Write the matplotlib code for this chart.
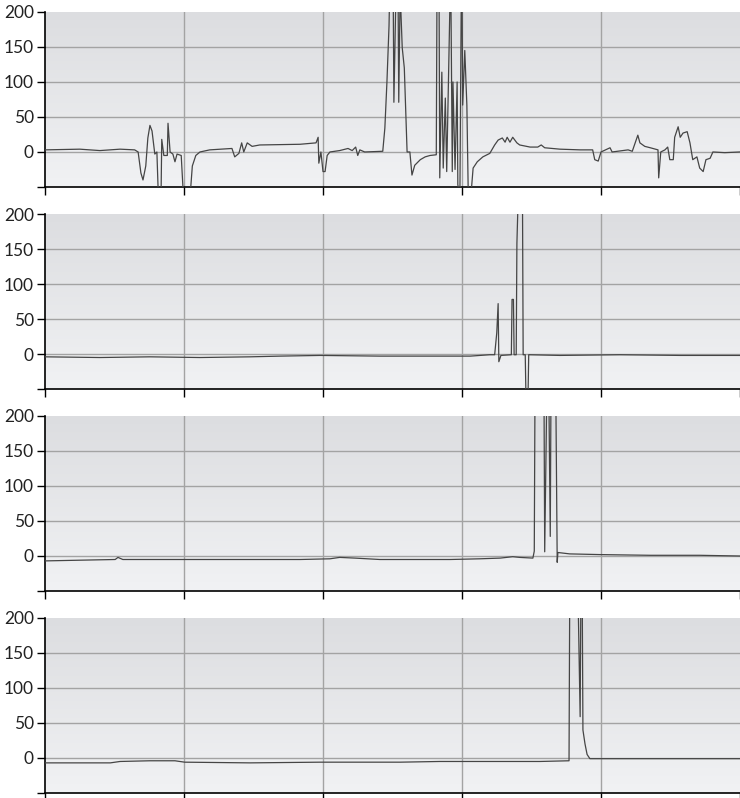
import numpy as np
import matplotlib.pyplot as plt
from matplotlib.colors import LinearSegmentedColormap

# values; time in % of the record, signal clipped at the axis limits
t1 = [0, 5.0, 7.9, 10.8, 12.9, 13.4, 13.8, 14.1, 14.5, 14.8, 15.1, 15.4, 15.8, 16.1, 16.3, 16.7,
      16.8, 17.1, 17.6, 17.7, 18.0, 18.4, 18.7, 19.0, 19.6, 19.9, 20.9, 21.2, 21.7, 22.3, 23.7,
      26.9, 27.3, 27.9, 28.3, 28.6, 29.1, 29.8, 30.9, 36.7, 39.0, 39.3, 39.4, 39.7, 40.0, 40.3,
      40.6, 41.0, 42.4, 43.6, 44.2, 44.7, 45.0, 45.3, 46.0, 48.6, 48.9, 49.2, 49.5, 49.6, 50.1,
      50.2, 50.5, 50.8, 50.9, 51.1, 51.4, 51.7, 52.1, 52.5, 52.8, 53.2, 54.0, 54.7, 55.4, 56.3,
      56.4, 56.7, 56.8, 57.1, 57.3, 57.6, 57.8, 58.0, 58.3, 58.4, 58.6, 58.7, 59.0, 59.3, 59.4,
      59.7, 59.9, 60.0, 60.1, 60.4, 60.7, 60.9, 61.3, 61.6, 62.2, 63.0, 64.0, 64.7, 65.2, 65.8,
      66.2, 66.5, 66.9, 67.3, 67.9, 68.3, 69.8, 70.9, 71.4, 71.9, 74.1, 77.0, 78.8, 79.1, 79.6,
      80.0, 81.3, 81.6, 83.9, 84.5, 85.3, 85.6, 86.3, 87.1, 88.2, 88.3, 88.6, 89.2, 89.6, 89.9,
      90.4, 90.6, 91.1, 91.4, 91.8, 92.4, 92.8, 93.2, 93.8, 94.2, 94.7, 95.1, 95.7, 96.1, 97.8, 100]
v1 = [3, 4, 2, 4, 3, 0, -30, -40, -20, 20, 38, 30, -3, 0, -60, -60,
      18, -5, -5, 41, 0, -3, -14, -3, -5, -60, -60, -20, -5, 0, 3,
      5, -7, -2, 13, 0, 13, 8, 10, 11, 13, 21, -16, 0, -28, -28,
      -5, 0, 2, 5, 2, 7, -5, 3, 0, 1, 34, 100, 180, 230, 230,
      71, 230, 230, 71, 230, 149, 120, 0, 0, -33, -19, -11, -7, -5, -4,
      230, 230, -37, 114, -23, 77, -28, 77, 230, 230, -28, 100, -25, 100, -47,
      -60, 230, 230, 67, 145, 67, -60, -60, -23, -14, -7, -2, 10, 17, 20,
      14, 21, 14, 21, 13, 10, 7, 7, 10, 6, 4, 3, 3, -11, -13,
      0, 6, 0, 3, 1, 24, 13, 8, 6, 3, -37, 0, 3, 7, -11,
      -11, 21, 36, 21, 27, 29, 13, -11, -7, -23, -28, -11, -9, 0, -1, 0]

t2 = [0, 7.9, 15.1, 22.3, 29.5, 33.8, 39.6, 48.2, 56.8, 61.2, 64.0, 64.7, 65.0, 65.2, 65.3,
      65.6, 67.1, 67.2, 67.4, 67.5, 67.8, 67.9, 68.1, 68.7, 68.8, 69.1, 69.2, 69.5, 69.6,
      74.1, 82.7, 91.4, 100]
v2 = [-4, -5, -4, -5, -4, -3, -2, -3, -3, -3, -1, -1, 30, 72, -11,
      -2, -1, 78, 78, -1, -1, 158, 230, 230, -1, -1, -60, -60, -1,
      -2, -1, -2, -2]

t3 = [0, 5.0, 10.1, 10.5, 11.2, 22.3, 36.7, 41.0, 42.4, 44.6, 48.2, 58.3, 62.6, 65.5, 67.3,
      68.3, 70.2, 70.4, 70.5, 71.8, 71.9, 72.2, 72.5, 72.7, 72.8, 73.5, 73.7, 73.8, 75.5,
      79.9, 87.1, 94.2, 100]
v3 = [-7, -6, -5, -2, -5, -5, -5, -4, -2, -3, -5, -5, -4, -3, -1,
      -2, -3, 7, 230, 230, 6, 230, 230, 28, 230, 230, -9, 5, 3,
      2, 1, 1, 0]

t4 = [0, 9.4, 10.8, 15.1, 18.7, 20.1, 29.5, 39.6, 51.1, 56.8, 65.5, 71.2, 75.4, 75.5, 76.3,
      76.7, 77.0, 77.1, 77.3, 77.4, 77.7, 78.0, 78.4, 100]
v4 = [-7, -7, -5, -4, -4, -6, -7, -6, -6, -5, -5, -5, -4, 230, 230,
      230, 59, 230, 230, 40, 20, 5, -1, -1]

series = [(t1, v1), (t2, v2), (t3, v3), (t4, v4)]
yticks = [-50, 0, 50, 100, 150, 200]
ytick_labels = ["", "0", "50", "100", "150", "200"]
xticks = [0, 20, 40, 60, 80, 100]

plt.rcParams["font.family"] = ["Lato", "DejaVu Sans"]

fig = plt.figure(figsize=(7.4, 7.98), dpi=100)
bg = LinearSegmentedColormap.from_list("bg", ["#f1f2f4", "#dcdde0"])
grad = np.linspace(0, 1, 256).reshape(-1, 1)

bottoms = [0.7657, 0.5125, 0.2594, 0.0063]
for (t, v), b in zip(series, bottoms):
    ax = fig.add_axes([0.0608, b, 0.9392, 0.2193])
    ax.imshow(grad, cmap=bg, origin="lower", aspect="auto",
              extent=[0, 100, -50, 200], zorder=0)
    ax.plot(t, v, color="#454545", lw=0.9, zorder=3)
    ax.set_xlim(0, 100)
    ax.set_ylim(-50, 200)
    ax.set_xticks(xticks)
    ax.set_xticklabels([])
    ax.set_yticks(yticks)
    ax.set_yticklabels(ytick_labels, fontsize=12.5, color="#222222")
    for y in [0, 50, 100, 150]:
        ax.axhline(y, color="#a3a3a3", lw=1, zorder=1)
    for x in [20, 40, 60, 80]:
        ax.axvline(x, color="#a3a3a3", lw=1, zorder=1)
    ax.tick_params(direction="out", length=6, width=1, color="black", pad=2)
    for side in ["top", "right"]:
        ax.spines[side].set_visible(False)
    ax.spines["left"].set_linewidth(1.2)
    ax.spines["bottom"].set_linewidth(1.2)

fig.savefig("out.png", dpi=100)
